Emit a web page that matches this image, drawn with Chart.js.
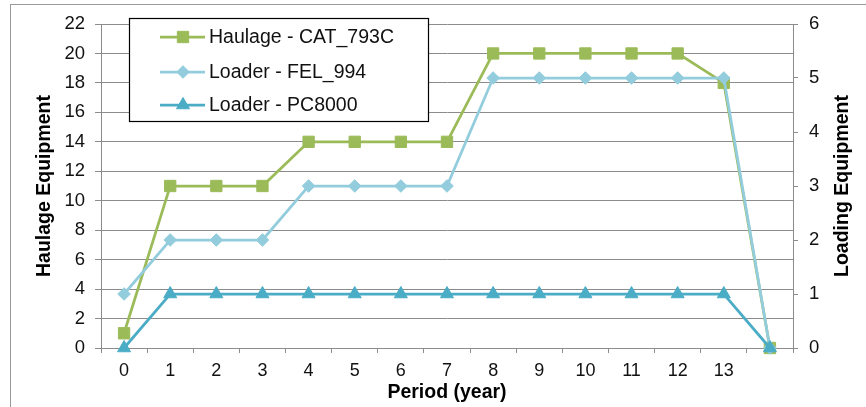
<!DOCTYPE html>
<html>
<head>
<meta charset="utf-8">
<script src="https://cdn.jsdelivr.net/npm/chart.js@4/dist/chart.umd.min.js"></script>
<style>
  html, body { margin: 0; padding: 0; background: #fff; }
  #wrap { width: 866px; height: 407px; }
</style>
</head>
<body>
<div id="wrap"><canvas id="c" width="866" height="407"></canvas></div>
<script>
// Period labels (the last slot is the closing step, left unlabeled)
const periods = ['0','1','2','3','4','5','6','7','8','9','10','11','12','13',''];

// Fleet sizes per period
const haulageCat793C = [1, 11, 11, 11, 14, 14, 14, 14, 20, 20, 20, 20, 20, 18, 0];
const loaderFel994   = [1, 2, 2, 2, 3, 3, 3, 3, 5, 5, 5, 5, 5, 5, 0];
const loaderPc8000   = [0, 1, 1, 1, 1, 1, 1, 1, 1, 1, 1, 1, 1, 1, 0];

const seriesNames = ['Haulage - CAT_793C', 'Loader - FEL_994', 'Loader - PC8000'];

const GREEN = '#9BBB59';
const LIGHT_BLUE = '#93CDDD';
const TEAL = '#4BACC6';
const GRID = '#8c8c8c';
const FONT = '"Liberation Sans", Arial, sans-serif';

const PLOT = { left: 101, right: 793, top: 24, bottom: 348 };

// Outer frame, floating legend and the axis titles
const decorPlugin = {
  id: 'decor',
  beforeDraw(chart) {
    const ctx = chart.ctx;
    ctx.save();
    ctx.fillStyle = '#fff';
    ctx.fillRect(0, 0, chart.width, chart.height);
    ctx.strokeStyle = '#9a9a9a';
    ctx.lineWidth = 1;
    ctx.strokeRect(10.5, 4.5, 900, 500);
    ctx.restore();
  },
  afterDraw(chart) {
    const ctx = chart.ctx;
    const area = chart.chartArea;
    ctx.save();

    // axis titles
    ctx.fillStyle = '#000';
    ctx.font = 'bold 19.5px ' + FONT;
    ctx.textAlign = 'center';
    ctx.textBaseline = 'middle';
    const midY = (area.top + area.bottom) / 2;
    ctx.save();
    ctx.translate(45, midY);
    ctx.rotate(-Math.PI / 2);
    ctx.fillText('Haulage Equipment', 0, 0);
    ctx.restore();
    ctx.save();
    ctx.translate(843, midY);
    ctx.rotate(-Math.PI / 2);
    ctx.fillText('Loading Equipment', 0, 0);
    ctx.restore();
    ctx.fillText('Period (year)', (area.left + area.right) / 2, 393);

    // legend box
    const bx = 129.5, by = 18.5, bw = 299, bh = 103;
    ctx.fillStyle = '#fff';
    ctx.fillRect(bx, by, bw, bh);
    ctx.strokeStyle = '#000';
    ctx.lineWidth = 1.2;
    ctx.strokeRect(bx, by, bw, bh);

    const rows = [37, 72, 105];
    chart.data.datasets.forEach((ds, i) => {
      const y = rows[i];
      ctx.strokeStyle = ds.borderColor;
      ctx.lineWidth = ds.borderWidth;
      ctx.beginPath();
      ctx.moveTo(160, y);
      ctx.lineTo(205, y);
      ctx.stroke();
      const opts = {
        pointStyle: ds.pointStyle,
        radius: ds.pointRadius,
        borderWidth: 1,
        rotation: 0
      };
      ctx.fillStyle = ds.pointBackgroundColor;
      ctx.strokeStyle = ds.pointBorderColor;
      ctx.lineWidth = 1;
      if (Chart.helpers && Chart.helpers.drawPoint) {
        Chart.helpers.drawPoint(ctx, opts, 183, y);
      }
      ctx.fillStyle = '#111';
      ctx.font = '19.5px ' + FONT;
      ctx.textAlign = 'left';
      ctx.textBaseline = 'middle';
      ctx.fillText(ds.label, 209, y + 1);
    });
    ctx.restore();
  }
};

function lineSet(label, data, color, axis, style, radius, order) {
  return {
    label: label,
    data: data,
    yAxisID: axis,
    borderColor: color,
    backgroundColor: color,
    borderWidth: 2.75,
    pointStyle: style,
    pointRadius: radius,
    pointBackgroundColor: color,
    pointBorderColor: color,
    pointBorderWidth: 1,
    tension: 0,
    clip: false,
    order: order
  };
}

new Chart(document.getElementById('c'), {
  type: 'line',
  data: {
    labels: periods,
    datasets: [
      lineSet(seriesNames[0], haulageCat793C, GREEN, 'y', 'rect', 8, 3),
      lineSet(seriesNames[1], loaderFel994, LIGHT_BLUE, 'y1', 'rectRot', 6.3, 2),
      lineSet(seriesNames[2], loaderPc8000, TEAL, 'y1', 'triangle', 7.5, 1)
    ]
  },
  options: {
    responsive: false,
    animation: false,
    events: [],
    layout: { padding: { top: PLOT.top, left: 0, right: 0, bottom: 0 } },
    plugins: {
      legend: { display: false },
      tooltip: { enabled: false },
      title: { display: false }
    },
    scales: {
      x: {
        type: 'category',
        offset: true,
        grid: {
          offset: true,
          drawOnChartArea: false,
          drawTicks: true,
          tickLength: 5,
          color: GRID
        },
        border: { color: GRID, width: 1 },
        ticks: {
          color: '#111',
          font: { family: FONT, size: 18 },
          padding: 7,
          maxRotation: 0,
          autoSkip: false
        },
        afterFit(s) { s.height = 407 - PLOT.bottom; s.paddingLeft = 0; s.paddingRight = 0; }
      },
      y: {
        position: 'left',
        min: 0,
        max: 22,
        ticks: {
          stepSize: 2,
          color: '#111',
          font: { family: FONT, size: 18.5 },
          padding: 10
        },
        grid: { color: GRID, tickLength: 6, lineWidth: 1 },
        border: { color: GRID, width: 1 },
        afterFit(s) { s.width = PLOT.left; s.paddingTop = 0; s.paddingBottom = 0; }
      },
      y1: {
        position: 'right',
        min: 0,
        max: 6,
        ticks: {
          stepSize: 1,
          color: '#111',
          font: { family: FONT, size: 18.5 },
          padding: 11
        },
        grid: { drawOnChartArea: false, color: GRID, tickLength: 5 },
        border: { color: GRID, width: 1 },
        afterFit(s) { s.width = 866 - PLOT.right; s.paddingTop = 0; s.paddingBottom = 0; }
      }
    }
  },
  plugins: [decorPlugin]
});
</script>
</body>
</html>
